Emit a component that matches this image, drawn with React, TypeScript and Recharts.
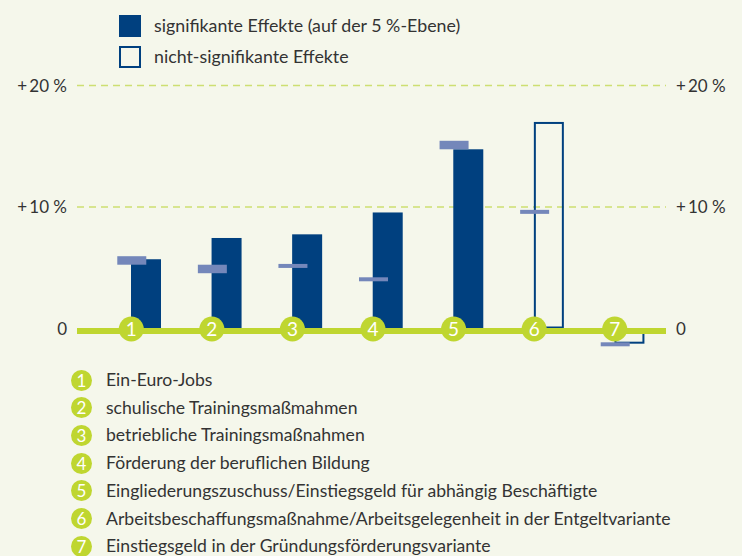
import React from 'react';
import { ComposedChart, Bar, Scatter, XAxis, YAxis, CartesianGrid, ReferenceLine } from 'recharts';

const categories = ['1', '2', '3', '4', '5', '6', '7'];
const categoryLabels = [
  'Ein-Euro-Jobs',
  'schulische Trainingsmaßmahmen',
  'betriebliche Trainingsmaßnahmen',
  'Förderung der beruflichen Bildung',
  'Eingliederungszuschuss/Einstiegsgeld für abhängig Beschäftigte',
  'Arbeitsbeschaffungsmaßnahme/Arbeitsgelegenheit in der Entgeltvariante',
  'Einstiegsgeld in der Gründungsförderungsvariante',
];
const effectValues = [5.7, 7.45, 7.75, 9.55, 14.75, 17.0, -1.25];
const effectSignificant = [true, true, true, true, true, false, false];
const markerValues = [5.6, 4.9, 5.15, 4.05, 15.1, 9.6, -1.3];
const markerStrong = [true, true, false, false, true, false, false];
const yTicks = [0, 10, 20];
const gridValues = [10, 20];
const legendLabels = ['signifikante Effekte (auf der 5 %-Ebene)', 'nicht-signifikante Effekte'];

const BG = '#f5f7eb';
const BLUE = '#00407f';
const MARKER = '#7487ba';
const GREEN = '#bfd630';
const GRID = '#cddf72';
const TEXT = '#333333';
const FONT = 'Lato, "Open Sans", sans-serif';

const data = categories.map((c, i) => ({
  cat: c,
  value: effectValues[i],
  sig: effectSignificant[i],
  marker: markerValues[i],
  strong: markerStrong[i],
  zero: 0,
}));

const BarShape = (props: any) => {
  const { x, y, width, height, payload } = props;
  const top = Math.min(y, y + height);
  const h = Math.abs(height);
  const left = x + width / 2;
  if (payload.sig) {
    return <rect x={left} y={top} width={width} height={h} fill={BLUE} />;
  }
  return (
    <rect
      x={left + 1}
      y={top + 1}
      width={width - 2}
      height={Math.max(h - 2, 0)}
      fill="none"
      stroke={BLUE}
      strokeWidth={2}
    />
  );
};

const MarkerShape = (props: any) => {
  const { cx, cy, payload } = props;
  const t = payload.strong ? 8.5 : 4;
  return <rect x={cx - 14} y={cy - t / 2} width={29} height={t} fill={MARKER} />;
};

const CircleShape = (props: any) => {
  const { cx, cy, payload } = props;
  return (
    <g>
      <circle cx={cx} cy={cy + 0.5} r={12.5} fill={GREEN} />
      <text
        x={cx}
        y={cy + 7.5}
        textAnchor="middle"
        fill="#ffffff"
        fontSize={19}
        fontFamily={FONT}
      >
        {payload.cat}
      </text>
    </g>
  );
};

const ZeroLine = (props: any) => {
  const { x1, x2, y1 } = props;
  return <line x1={x1} x2={x2} y1={y1 + 2.5} y2={y1 + 2.5} stroke={GREEN} strokeWidth={6} />;
};

const fmt = (v: number) => (v === 0 ? '0' : `+\u2009${v} %`);

export default function App() {
  return (
    <div
      style={{
        position: 'absolute',
        left: 0,
        top: 0,
        width: 742,
        height: 556,
        background: BG,
        fontFamily: FONT,
        color: TEXT,
        overflow: 'hidden',
      }}
    >
      {legendLabels.map((l, i) => (
        <div key={l} style={{ position: 'absolute', left: 119, top: 14 + i * 31, height: 23, display: 'flex', alignItems: 'center' }}>
          <div
            style={{
              width: 22,
              height: 22,
              boxSizing: 'border-box',
              background: i === 0 ? BLUE : 'transparent',
              border: `2.5px solid ${BLUE}`,
            }}
          />
          <span style={{ marginLeft: 13, fontSize: 17.8, lineHeight: '23px', whiteSpace: 'nowrap' }}>{l}</span>
        </div>
      ))}

      <div style={{ position: 'absolute', left: 0, top: 0 }}>
        <ComposedChart
          width={742}
          height={362}
          data={data}
          margin={{ top: 85.5, right: 0, bottom: 9.2, left: 0 }}
          barCategoryGap={0}
        >
          <CartesianGrid
            vertical={false}
            horizontalValues={gridValues}
            stroke={GRID}
            strokeDasharray="7 5"
            strokeWidth={1.5}
          />
          <XAxis dataKey="cat" type="category" hide padding={{ left: 14, right: 11 }} />
          <YAxis
            yAxisId={0}
            orientation="left"
            width={77}
            domain={[-2, 20]}
            ticks={yTicks}
            tickFormatter={fmt}
            axisLine={false}
            tickLine={false}
            tickSize={0}
            tickMargin={10}
            tick={{ fill: TEXT, fontSize: 17, fontFamily: FONT }}
            allowDataOverflow
          />
          <YAxis
            yAxisId="r"
            orientation="right"
            width={76}
            domain={[-2, 20]}
            ticks={yTicks}
            tickFormatter={fmt}
            axisLine={false}
            tickLine={false}
            tickSize={0}
            tickMargin={10}
            tick={{ fill: TEXT, fontSize: 17, fontFamily: FONT, textAnchor: 'start' }}
            allowDataOverflow
          />
          <Bar dataKey="value" barSize={30} shape={BarShape} isAnimationActive={false} />
          <Scatter dataKey="marker" shape={MarkerShape} isAnimationActive={false} />
          <ReferenceLine y={0} shape={ZeroLine} />
          <Scatter dataKey="zero" shape={CircleShape} isAnimationActive={false} />
        </ComposedChart>
      </div>

      {categoryLabels.map((l, i) => (
        <div
          key={l}
          style={{
            position: 'absolute',
            left: 71,
            top: 369 + i * 27.7,
            height: 22,
            display: 'flex',
            alignItems: 'center',
          }}
        >
          <div
            style={{
              width: 21,
              height: 21,
              borderRadius: '50%',
              background: GREEN,
              color: '#fff',
              fontSize: 17,
              lineHeight: '21px',
              textAlign: 'center',
            }}
          >
            {categories[i]}
          </div>
          <span style={{ marginLeft: 14, fontSize: 17.6, lineHeight: '22px', whiteSpace: 'nowrap' }}>{l}</span>
        </div>
      ))}
    </div>
  );
}
